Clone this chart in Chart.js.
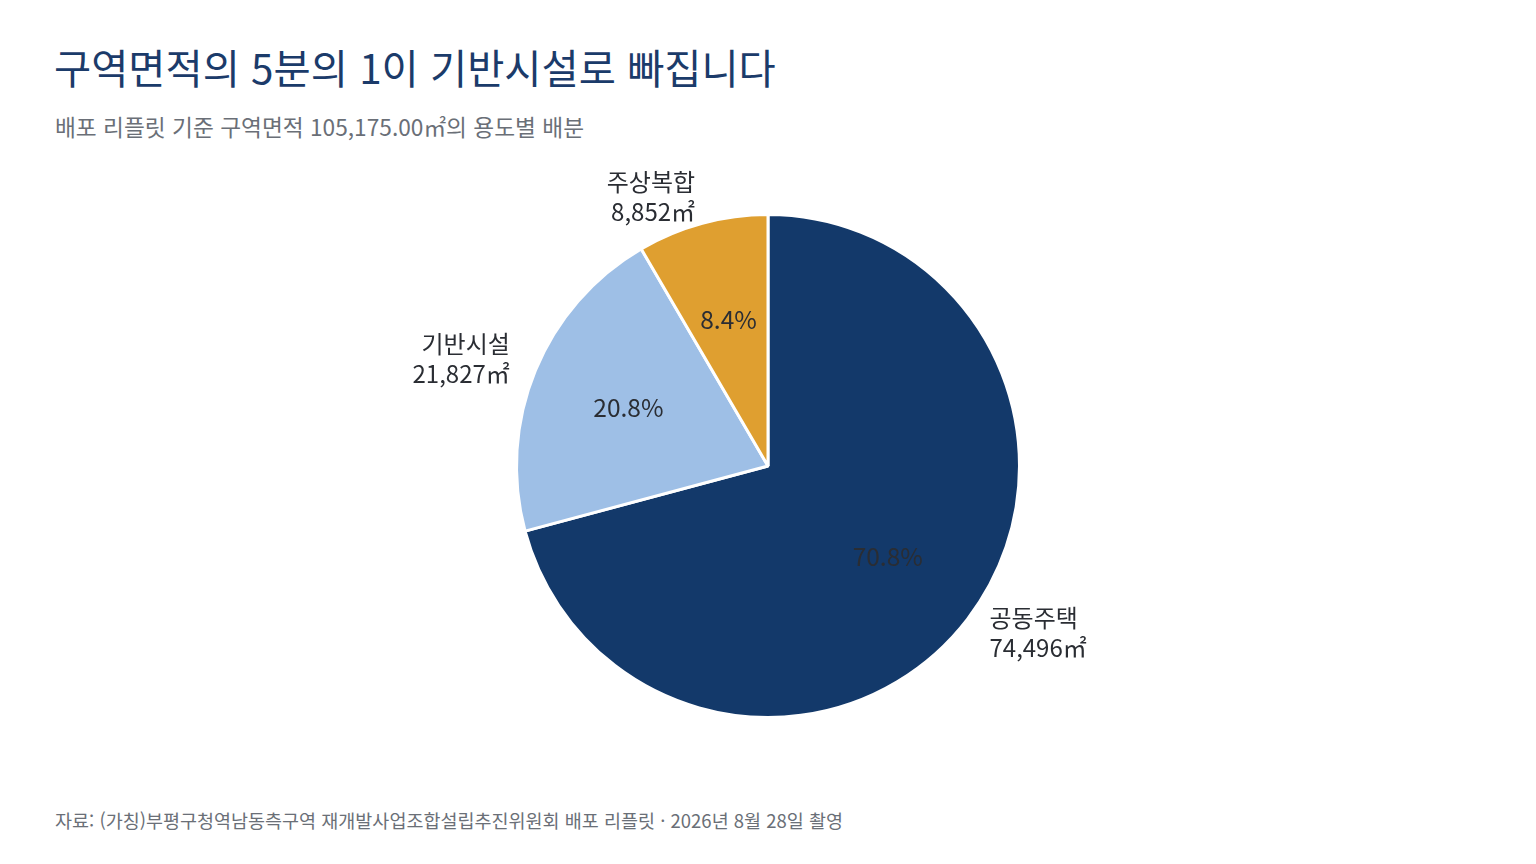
<!DOCTYPE html>
<html lang="ko">
<head>
<meta charset="utf-8">
<title>구역면적 용도별 배분</title>
<script src="https://cdn.jsdelivr.net/npm/chart.js@4.4.1/dist/chart.umd.min.js"></script>
<style>
  html, body {
    margin: 0;
    padding: 0;
    background: #ffffff;
    font-family: "Noto Sans CJK KR", "Noto Sans", sans-serif;
  }
  .page {
    position: relative;
    width: 1536px;
    height: 864px;
    overflow: hidden;
  }
  .title {
    position: absolute;
    left: 54px;
    top: 43px;
    margin: 0;
    font-size: 40.4px;
    font-weight: 400;
    color: #1b3b6a;
    line-height: 1.2;
  }
  .subtitle {
    position: absolute;
    left: 55px;
    top: 113px;
    margin: 0;
    font-size: 22.7px;
    color: #6a6f77;
    line-height: 1.2;
  }
  .chart-box {
    position: absolute;
    left: 0;
    top: 166px;
    width: 1536px;
    height: 600px;
  }
  .source {
    position: absolute;
    left: 55px;
    top: 809px;
    margin: 0;
    font-size: 18.5px;
    color: #6a6f77;
    line-height: 1.2;
  }
</style>
</head>
<body>
<div class="page">
  <h1 class="title">구역면적의 5분의 1이 기반시설로 빠집니다</h1>
  <p class="subtitle">배포 리플릿 기준 구역면적 105,175.00㎡의 용도별 배분</p>
  <div class="chart-box"><canvas id="areaChart"></canvas></div>
  <p class="source">자료: (가칭)부평구청역남동측구역 재개발사업조합설립추진위원회 배포 리플릿 · 2026년 8월 28일 촬영</p>
</div>

<script>
// data
const categories = ["공동주택", "기반시설", "주상복합"];
const areas = [74496, 21827, 8852];
const sliceColors = ["#13396a", "#9ebfe6", "#df9f30"];

const totalArea = areas.reduce((a, b) => a + b, 0);

// labels inside (percent) and outside (name + area)
const sliceLabels = {
  id: "sliceLabels",
  afterDatasetsDraw(chart) {
    const ctx = chart.ctx;
    const meta = chart.getDatasetMeta(0);
    ctx.save();
    meta.data.forEach(function (arc, i) {
      const mid = (arc.startAngle + arc.endAngle) / 2;
      const r = arc.outerRadius;
      const cos = Math.cos(mid);
      const sin = Math.sin(mid);

      // percent
      const pct = ((areas[i] / totalArea) * 100).toFixed(1) + "%";
      ctx.font = "24.5px 'Noto Sans CJK KR', 'Noto Sans', sans-serif";
      ctx.fillStyle = "#2a2d33";
      ctx.textAlign = "center";
      ctx.textBaseline = "middle";
      ctx.fillText(pct, arc.x + cos * r * 0.6, arc.y + sin * r * 0.6 - 1);

      // name + area
      const lx = arc.x + cos * r * 1.11;
      const ly = arc.y + sin * r * 1.1;
      ctx.font = "24px 'Noto Sans CJK KR', 'Noto Sans', sans-serif";
      ctx.textAlign = cos < 0 ? "right" : "left";
      ctx.fillText(categories[i], lx, ly - 17);
      ctx.fillText(areas[i].toLocaleString("en-US") + "㎡", lx, ly + 13);
    });
    ctx.restore();
  },
};

const chartCtx = document.getElementById("areaChart").getContext("2d");
const areaChart = new Chart(chartCtx, {
  type: "pie",
  data: {
    labels: categories,
    datasets: [
      {
        data: areas,
        backgroundColor: sliceColors,
        borderColor: "#ffffff",
        borderWidth: 3,
      },
    ],
  },
  options: {
    responsive: true,
    maintainAspectRatio: false,
    animation: false,
    layout: { padding: 47 },
    plugins: {
      legend: { display: false },
      tooltip: { enabled: false },
    },
  },
  plugins: [sliceLabels],
});
</script>
</body>
</html>
